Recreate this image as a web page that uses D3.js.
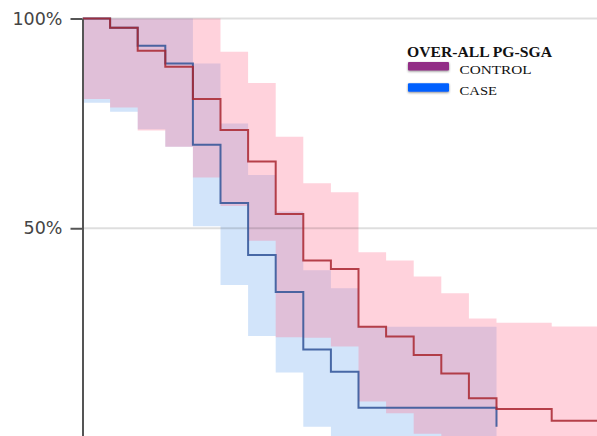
<!DOCTYPE html>
<html>
<head>
<meta charset="utf-8">
<script src="https://cdn.jsdelivr.net/npm/d3@7/dist/d3.min.js"></script>
<style>
	html, body { margin: 0; padding: 0; background: #fff; }
	#chart { width: 597px; height: 436px; }
	.axis text { font-family: "DejaVu Sans", sans-serif; font-size: 17.5px; fill: #444; }
	.axis line, .axis path { stroke: #555; stroke-width: 2; }
	.legend text { font-family: "Liberation Serif", serif; fill: #111; }
</style>
</head>
<body>
<div id="chart"></div>
<script>
'use strict';

// step start times (one per interval) and survival (%)
var controlTimes = [0, 1, 2, 3, 4, 5, 6, 7, 8, 9, 10, 11, 12, 13, 14, 15, 16, 17, 19];
var controlSurv  = [100, 97.8, 92.3, 88.5, 80.8, 73.4, 65.9, 53.4, 42.3, 40.3, 26.5, 24.2, 19.8, 15.4, 9.5, 6.9, 6.9, 4.1, 4.1];
var controlUpper = [100, 100, 100, 100, 100, 92.1, 84.6, 71.8, 60.7, 58.6, 44.3, 42.3, 38.5, 34.5, 28.5, 27.5, 27.5, 26.6, 26.6];
var controlLower = [80.8, 78.8, 73.3, 69.4, 62.1, 55.3, 47.0, 24.0, 23.9, 21.8, 8.7, 5.9, 1.0, 0, 0, 0, 0, 0, 0];

var caseTimes = [0, 1, 2, 3, 4, 5, 6, 7, 8, 9, 10, 11, 12, 13, 14, 15];
var caseSurv  = [100, 97.8, 93.5, 89.3, 69.9, 56.0, 43.6, 34.8, 21.1, 15.8, 7.2, 7.2, 7.2, 7.2, 7.2, 2.7];
var caseUpper = [100, 100, 100, 100, 89.3, 75.0, 62.7, 54.0, 40.0, 35.7, 26.5, 26.5, 26.5, 26.5, 26.5, 26.5];
var caseLower = [79.9, 77.8, 73.6, 69.4, 50.5, 36.5, 24.3, 15.6, 2.7, 0, 0, 0, 0, 0, 0, 0];

var yTicks = [50, 100];
var legendTitle = 'OVER-ALL PG-SGA';
var legendNames = ['CONTROL', 'CASE'];
var legendColors = ['#922f86', '#0060fe'];

function rows(times, surv, upper, lower){
	return times.map(function(t, i){
		return {t: t, s: surv[i], hi: upper[i], lo: lower[i]};
	});
}

var controlData = rows(controlTimes, controlSurv, controlUpper, controlLower);
var caseData = rows(caseTimes, caseSurv, caseUpper, caseLower);

var width = 597;
var height = 436;

var svg = d3.select('#chart').append('svg')
	.attr('width', width)
	.attr('height', height);

var xScale = d3.scaleLinear()
	.domain([0, 19])
	.range([82.5, 82.5 + 27.6 * 19]);

var yScale = d3.scaleLinear()
	.domain([0, 100])
	.range([438, 18.5]);

var defs = svg.append('defs');
defs.append('clipPath')
	.attr('id', 'plot')
	.append('rect')
		.attr('x', 82.5)
		.attr('y', 0)
		.attr('width', width - 82.5)
		.attr('height', height);

var shadow = defs.append('filter')
	.attr('id', 'shadow')
	.attr('x', '-20%').attr('y', '-60%')
	.attr('width', '140%').attr('height', '220%');
shadow.append('feDropShadow')
	.attr('dx', 0)
	.attr('dy', 1)
	.attr('stdDeviation', 1.3)
	.attr('flood-color', '#333')
	.attr('flood-opacity', 0.55);

var band = d3.area()
	.curve(d3.curveStepAfter)
	.x(function(d) { return xScale(d.t); })
	.y0(function(d) { return yScale(d.lo); })
	.y1(function(d) { return yScale(d.hi); });

var line = d3.line()
	.curve(d3.curveStepAfter)
	.x(function(d) { return xScale(d.t); })
	.y(function(d) { return yScale(d.s); });

var plot = svg.append('g').attr('clip-path', 'url(#plot)');

plot.append('path')
	.attr('class', 'band case')
	.attr('d', band(caseData))
	.style('fill', '#d2e4fa');

plot.append('path')
	.attr('class', 'band control')
	.attr('d', band(controlData))
	.style('fill', 'rgba(255,110,142,0.31)');

// grid lines sit over the bands
plot.append('g')
	.attr('class', 'grid')
	.selectAll('line')
	.data(yTicks)
	.enter()
	.append('line')
		.attr('x1', 82.5)
		.attr('x2', width)
		.attr('y1', function(d) { return yScale(d); })
		.attr('y2', function(d) { return yScale(d); })
		.style('stroke', 'rgba(0,0,0,0.13)')
		.style('stroke-width', 2);

plot.append('path')
	.attr('class', 'line case')
	.attr('d', line(caseData))
	.style('fill', 'none')
	.style('stroke', '#2f5296')
	.style('stroke-opacity', 0.85)
	.style('stroke-width', 2);

plot.append('path')
	.attr('class', 'line control')
	.attr('d', line(controlData))
	.style('fill', 'none')
	.style('stroke', '#a8262f')
	.style('stroke-opacity', 0.85)
	.style('stroke-width', 2);

var yAxis = d3.axisLeft(yScale)
	.tickValues(yTicks)
	.tickFormat(function(d) { return d + '%'; })
	.tickSize(12)
	.tickSizeOuter(0)
	.tickPadding(8);

svg.append('g')
	.attr('class', 'axis y')
	.attr('transform', 'translate(82.5,0)')
	.call(yAxis);

var legend = svg.append('g')
	.attr('class', 'legend')
	.attr('transform', 'translate(407,0)');

legend.append('text')
	.attr('x', 0)
	.attr('y', 56.5)
	.attr('textLength', 145)
	.attr('lengthAdjust', 'spacingAndGlyphs')
	.style('font-weight', 'bold')
	.style('font-size', '14px')
	.text(legendTitle);

var items = legend.selectAll('g.item')
	.data(legendNames)
	.enter()
	.append('g')
	.attr('class', 'item')
	.attr('transform', function(d, i) { return 'translate(0,' + (62 + i * 21.3) + ')'; });

items.append('rect')
	.attr('x', 1)
	.attr('y', 0)
	.attr('width', 41)
	.attr('height', 8.5)
	.attr('rx', 1)
	.attr('filter', 'url(#shadow)')
	.style('fill', function(d, i) { return legendColors[i]; });

items.append('text')
	.attr('x', 52.5)
	.attr('y', 11.5)
	.attr('textLength', function(d) { return d === 'CONTROL' ? 72 : 37.5; })
	.attr('lengthAdjust', 'spacingAndGlyphs')
	.style('font-size', '13px')
	.text(function(d) { return d; });
</script>
</body>
</html>
